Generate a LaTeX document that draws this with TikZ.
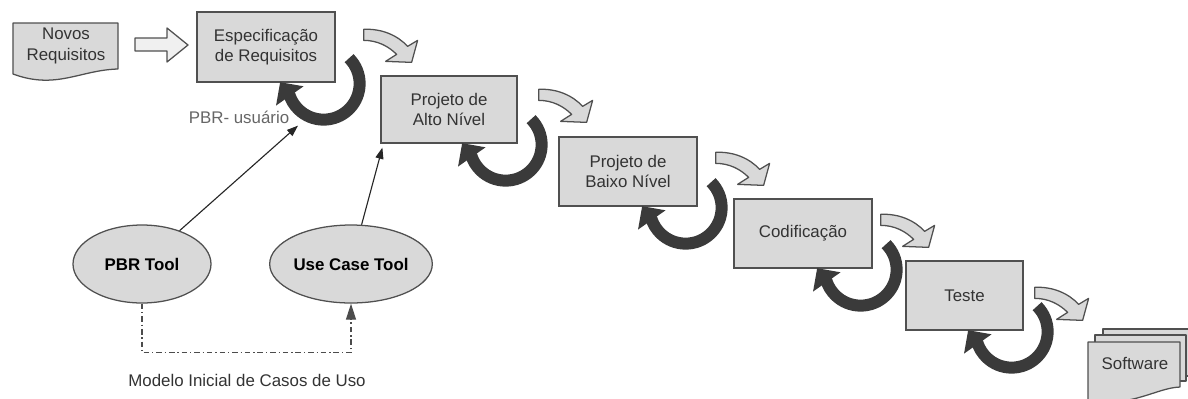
\documentclass[tikz,border=0pt]{standalone}
\usepackage{fontspec}
\setmainfont{Liberation Sans}
\usetikzlibrary{shapes.geometric,arrows.meta,calc}

\definecolor{boxgray}{HTML}{D9D9D9}
\definecolor{edgegray}{HTML}{505050}
\definecolor{loopgray}{HTML}{3A3A3A}

\tikzset{
	phase/.style={draw=edgegray,fill=boxgray,line width=0.9pt,minimum width=3.45cm,minimum height=1.75cm,align=center,text=black!80,font=\fontsize{12}{14.5}\selectfont},
	tool/.style={ellipse,draw=edgegray,fill=boxgray,line width=0.9pt,minimum height=1.95cm,inner sep=0pt,font=\bfseries\fontsize{12}{14}\selectfont},
	loopline/.style={draw=loopgray,line width=0.3cm},
	feed/.style={draw=black!85,line width=0.8pt,-{Triangle[length=0.28cm,width=0.2cm]}},
	modelo/.style={draw=black!70,line width=0.8pt,dash pattern=on 4pt off 2pt on 1pt off 2pt,-{Triangle[length=0.4cm,width=0.25cm]}},
	sheet/.style={fill=boxgray,draw=edgegray,line width=0.9pt,line join=round},
	hollow/.style={fill=gray!12,draw=edgegray,line width=0.9pt,line join=round},
	plain/.style={text=black!80,font=\fontsize{12}{14.5}\selectfont},
	bentarrow/.pic={
		\filldraw[sheet,x=0.025cm,y=-0.025cm] (0,0) .. controls (18,-1) and (34,6) .. (44,17) -- (54,11) -- (48,33) -- (22,32) -- (33,25) .. controls (25,17) and (14,11) .. (0,11) -- cycle;
	}
}

\begin{document}
\begin{tikzpicture}
		\useasboundingbox (0,0) rectangle (29.7,-9.95);
		% documento de entrada
		\filldraw[sheet] (0.325,-0.575) -- (2.95,-0.575) -- (2.95,-1.725) .. controls (2.0,-1.75) and (1.4,-2.25) .. (0.325,-1.85) -- cycle;
		\node[plain,align=center] (novos) at (1.65,-1.15) {Novos\\Requisitos};
		\filldraw[hollow] (3.375,-0.95) -- (4.175,-0.95) -- (4.175,-0.7) -- (4.7,-1.125) -- (4.175,-1.55) -- (4.175,-1.275) -- (3.375,-1.275) -- cycle;

		% fases
		\node[phase] (espec) at (6.65,-1.175) {Especificação\\de Requisitos};
		\node[phase,minimum width=3.4cm,minimum height=1.675cm] (alto) at (11.225,-2.7375) {Projeto de\\Alto Nível};
		\node[phase,minimum height=1.725cm] (baixo) at (15.7,-4.2875) {Projeto de\\Baixo Nível};
		\node[phase,minimum height=1.725cm] (cod) at (20.075,-5.8375) {Codificação};
		\node[phase,minimum width=2.925cm,minimum height=1.725cm] (teste) at (24.1125,-7.3875) {Teste};

		\foreach \b/\dx/\dy in {espec/0.7/-0.45,alto/0.525/-0.35,baixo/0.45/-0.4,cod/0.2/-0.4,teste/0.275/-0.675}
			\pic at ($(\b.north east)+(\dx,\dy)$) {bentarrow};
		\foreach \b in {espec,alto,baixo,cod,teste} {
			\coordinate (loopc) at ($(\b.south east)+(-0.3,-0.025)$);
			\draw[loopline] ($(loopc)+(45:0.9)$) arc[start angle=45,end angle=-163,radius=0.9];
			\fill[loopgray] ($(loopc)+(-160:0.9)+(35:0.42)$) -- ($(loopc)+(-160:0.9)+(125:0.42)$) -- ($(loopc)+(-160:0.9)+(215:0.42)$) -- cycle;
		}

		% software
		\filldraw[sheet] (27.575,-8.225) rectangle (29.95,-9.4);
		\filldraw[sheet] (27.375,-8.375) rectangle (29.65,-9.525);
		\filldraw[sheet] (27.2,-8.55) -- (29.5,-8.55) -- (29.5,-9.675) .. controls (28.9,-9.7) and (28.4,-10.15) .. (27.2,-10.05) -- cycle;
		\node[plain] (software) at (28.375,-9.075) {Software};

		% ferramentas
		\node[tool,minimum width=3.45cm] (pbr) at (3.55,-6.6) {PBR Tool};
		\node[tool,minimum width=3.675cm] (usecase) at (8.775,-6.6) {Use Case Tool};
		\node[plain,text=black!60] (usuario) at (5.975,-2.925) {PBR- usuário};
		\coordinate (pbrtip) at ($(espec.south)+(0.8,-1.075)$);
		\draw[feed] (pbr) -- (pbrtip);
		\draw[feed] (usecase) -- ($(alto.south west)+(0.05,-0.1)$);
		\draw[modelo] (pbr.south) -- ++(0,-1.225) -| (usecase.south);
		\node[plain] (modelolbl) at (6.175,-9.5) {Modelo Inicial de Casos de Uso};
	\end{tikzpicture}
\end{document}
